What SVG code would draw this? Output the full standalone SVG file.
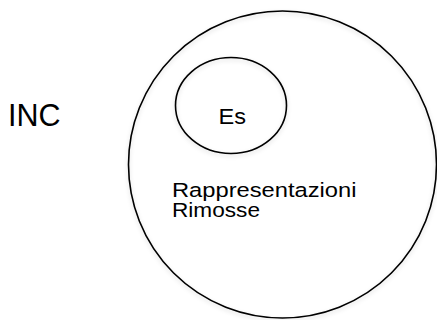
<svg xmlns="http://www.w3.org/2000/svg" width="437" height="320" viewBox="0 0 437 320">
<style>
.shape{fill:none;stroke:#000;stroke-width:1.6}
.t{font-family:"Liberation Sans",Arial,sans-serif;fill:#000}
</style>
<defs>
<filter id="sh" x="-10%" y="-10%" width="120%" height="120%">
<feDropShadow dx="0" dy="2" stdDeviation="2" flood-color="#000" flood-opacity="0.15"/>
</filter>
</defs>
<rect width="437" height="320" fill="#fff"/>
<g id="inc-label"><text class="t" x="8" y="126" font-size="30.5">INC</text></g>
<g id="inc">
<ellipse class="shape" cx="282.5" cy="164.5" rx="154" ry="153.5" filter="url(#sh)"/>
<text class="t" x="172" y="197" font-size="20.5" textLength="184.5" lengthAdjust="spacingAndGlyphs">Rappresentazioni</text>
<text class="t" x="172" y="217" font-size="20.5" textLength="88" lengthAdjust="spacingAndGlyphs">Rimosse</text>
</g>
<g id="es">
<ellipse class="shape" cx="231" cy="105.5" rx="55.5" ry="48" filter="url(#sh)"/>
<text class="t" x="218.5" y="123.5" font-size="22" textLength="27.5" lengthAdjust="spacingAndGlyphs">Es</text>
</g>
<g id="connectors"/>
</svg>
